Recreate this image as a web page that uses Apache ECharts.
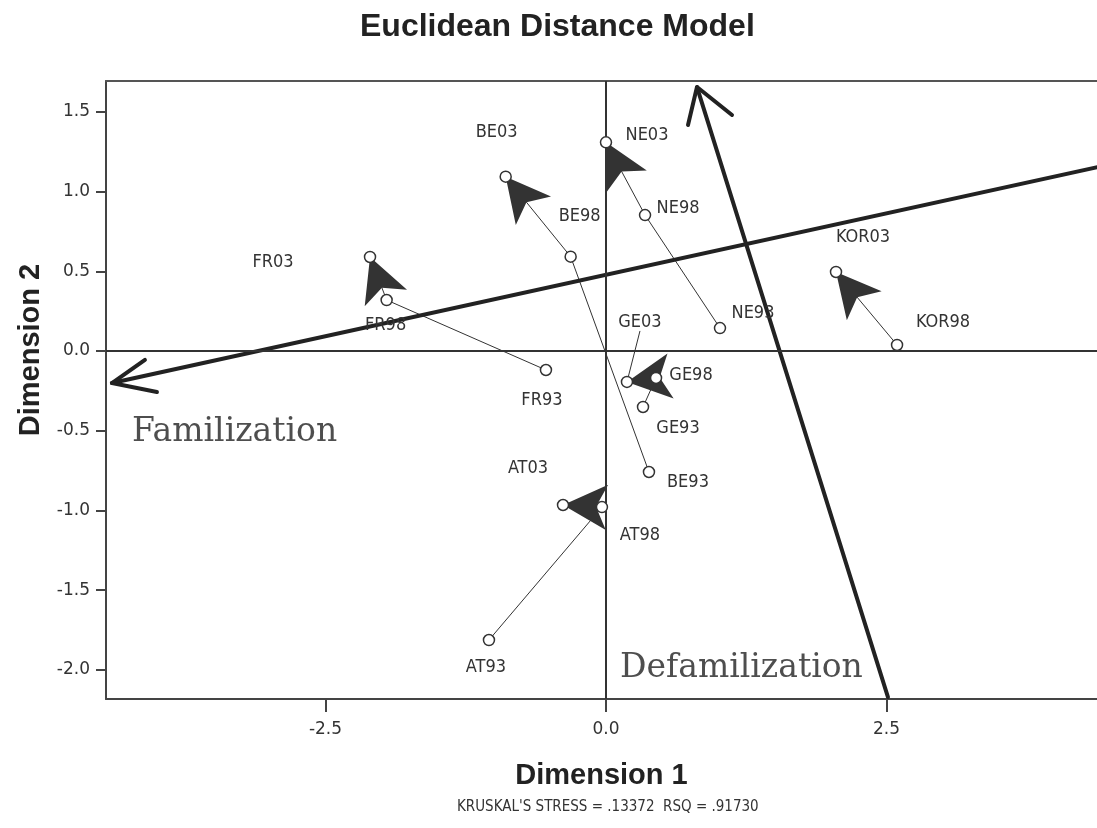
<!DOCTYPE html>
<html><head><meta charset="utf-8">
<script src="https://cdn.jsdelivr.net/npm/echarts@6/dist/echarts.min.js"></script>
<style>html,body{margin:0;padding:0;background:#fff}#c{width:1097px;height:828px}</style>
</head><body><div id="c"></div>
<script>
// ---- data ----
const pointNames = ['BE03','NE03','BE98','NE98','FR03','FR98','NE93','GE03','FR93','GE98','GE93','BE93','AT03','AT98','AT93','KOR03','KOR98'];
const dim1 = [-0.894, 0.000, -0.315, 0.348, -2.103, -1.955, 1.016, 0.187, -0.535, 0.446, 0.330, 0.383, -0.383, -0.036, -1.043, 2.050, 2.594];
const dim2 = [1.094, 1.309, 0.592, 0.853, 0.590, 0.320, 0.144, -0.194, -0.119, -0.169, -0.351, -0.759, -0.966, -0.979, -1.813, 0.496, 0.038];
// trajectories: earliest -> latest (arrow points at the last)
const trajectories = [
  ['BE93','BE98','BE03'],
  ['NE93','NE98','NE03'],
  ['FR93','FR98','FR03'],
  ['GE93','GE98','GE03'],
  ['AT93','AT98','AT03'],
  ['KOR98','KOR03']
];
// interpretive axes (Dimension 1, Dimension 2)
const familShaft = [[4.38, 1.154], [-4.403, -0.201]];
const familHead  = [[-4.109, -0.056], [-4.403, -0.201], [-4.002, -0.257]];
const defamShaft = [[2.513, -2.171], [0.811, 1.656]];
const defamHead  = [[0.731, 1.418], [0.811, 1.656], [1.123, 1.481]];
const annotations = [
  {name: 'Familization',   value: [-4.225, -0.508]},
  {name: 'Defamilization', value: [0.125, -1.989]}
];
const xTicks = [-2.5, 0, 2.5];
const yTicks = [-2.0, -1.5, -1.0, -0.5, 0.0, 0.5, 1.0, 1.5];
const titleText = 'Euclidean Distance Model';
const footText = "KRUSKAL'S STRESS = .13372  RSQ = .91730";

// ---- layout / style ----
const labelOffsets = {
  BE03: [-9, -44], NE03: [41, -7], BE98: [9, -40], NE98: [33, -7],
  FR03: [-97, 5], FR98: [-1, 25], NE93: [33, -15], GE03: [13, -60],
  FR93: [-4, 30], GE98: [35, -3], GE93: [35, 21], BE93: [39, 10],
  AT03: [-35, -37], AT98: [38, 28], AT93: [-3, 27], KOR03: [27, -35], KOR98: [46, -23]
};
const ink = '#222';
const narrow = "'DejaVu Sans Condensed', 'Liberation Sans Narrow', 'DejaVu Sans', sans-serif";
const pt = n => { const i = pointNames.indexOf(n); return [dim1[i], dim2[i]]; };
const X_MIN = -4.456, X_MAX = 4.376, Y_MIN = -2.183, Y_MAX = 1.694;

const series = [];
// thin trajectory segments + arrowheads
trajectories.forEach(tr => {
  const pts = tr.map(pt);
  const body = pts.slice(0, pts.length - 1);
  const a = pts[pts.length - 2], b = pts[pts.length - 1];
  series.push({
    type: 'line', data: body.length > 1 ? body : [], showSymbol: false, silent: true,
    lineStyle: {color: '#333', width: 1}, z: 3, animation: false,
    markLine: {
      silent: true, animation: false,
      symbol: ['none', 'arrow'], symbolSize: [34, 44],
      lineStyle: {color: '#333', width: 1, type: 'solid'},
      itemStyle: {color: '#1a1a1a'},
      label: {show: false},
      data: [[{coord: a}, {coord: b}]]
    }
  });
});
// big axes arrows
[familShaft, familHead, defamShaft, defamHead].forEach(d => {
  series.push({
    type: 'line', data: d, showSymbol: false, silent: true, z: 4, animation: false,
    lineStyle: {color: ink, width: 4, cap: 'round', join: 'round'}
  });
});
// points
series.push({
  type: 'scatter', z: 6, animation: false,
  symbol: 'circle', symbolSize: 11,
  itemStyle: {color: '#fff', borderColor: '#333', borderWidth: 1.5, opacity: 1},
  data: pointNames.map((n, i) => ({name: n, value: [dim1[i], dim2[i]],
    labelLine: n === 'GE03' ? {show: true, lineStyle: {color: '#333', width: 1}} : {show: false}})),
  label: {
    show: true, position: 'inside', formatter: '{b}',
    fontFamily: narrow, fontSize: 18, color: '#333'
  },
  labelLayout: p => { const o = labelOffsets[pointNames[p.dataIndex]]; return {dx: o[0], dy: o[1]}; },
  markLine: {
    silent: true, animation: false, symbol: 'none',
    lineStyle: {color: '#333', width: 2, type: 'solid'}, label: {show: false},
    data: [{xAxis: 0}, {yAxis: 0}]
  }
});
// text annotations
series.push({
  type: 'scatter', symbolSize: 0, silent: true, z: 7, animation: false,
  data: annotations,
  label: {show: true, position: 'right', distance: 0, formatter: '{b}',
    fontFamily: 'DejaVu Serif', fontSize: 33, color: ink}
});

const option = {
  backgroundColor: '#fff',
  animation: false,
  title: [
    {text: titleText, left: 355, top: 6,
     textStyle: {fontFamily: 'Liberation Sans', fontWeight: 'bold', fontSize: 32, color: ink}},
    {text: footText, left: 452, top: 795,
     textStyle: {fontFamily: narrow, fontWeight: 'normal', fontSize: 15, color: '#333'}}
  ],
  grid: {left: 106, top: 81, right: 0, bottom: 129, show: false, containLabel: false},
  xAxis: [{
    type: 'value', min: X_MIN, max: X_MAX,
    name: 'Dimension 1', nameLocation: 'middle', nameGap: 62,
    nameTextStyle: {fontFamily: 'Liberation Sans', fontWeight: 'bold', fontSize: 29, color: ink},
    axisLine: {show: true, onZero: false, lineStyle: {color: '#444', width: 2}},
    axisTick: {show: true, inside: false, length: 13, lineStyle: {color: '#444', width: 2}, customValues: xTicks},
    axisLabel: {margin: 22, fontFamily: 'DejaVu Sans', fontSize: 17, color: '#333',
      customValues: xTicks, formatter: v => v.toFixed(1)},
    splitLine: {show: false}
  }, {
    type: 'value', position: 'top', min: X_MIN, max: X_MAX,
    axisLine: {show: true, onZero: false, lineStyle: {color: '#555', width: 2}},
    axisTick: {show: false}, axisLabel: {show: false}, splitLine: {show: false}
  }],
  yAxis: {
    type: 'value', min: Y_MIN, max: Y_MAX,
    name: 'Dimension 2', nameLocation: 'middle', nameGap: 58,
    nameTextStyle: {fontFamily: 'Liberation Sans', fontWeight: 'bold', fontSize: 29, color: ink,
      padding: [0, 0, 0, 80]},
    axisLine: {show: true, onZero: false, lineStyle: {color: '#444', width: 2}},
    axisTick: {show: true, inside: false, length: 10, lineStyle: {color: '#444', width: 2}, customValues: yTicks},
    axisLabel: {margin: 16, fontFamily: 'DejaVu Sans', fontSize: 17, color: '#333',
      customValues: yTicks, formatter: v => v.toFixed(1)},
    splitLine: {show: false}
  },
  series: series
};
const chart = echarts.init(document.getElementById('c'), null, {renderer: 'canvas'});
chart.setOption(option);
</script></body></html>
